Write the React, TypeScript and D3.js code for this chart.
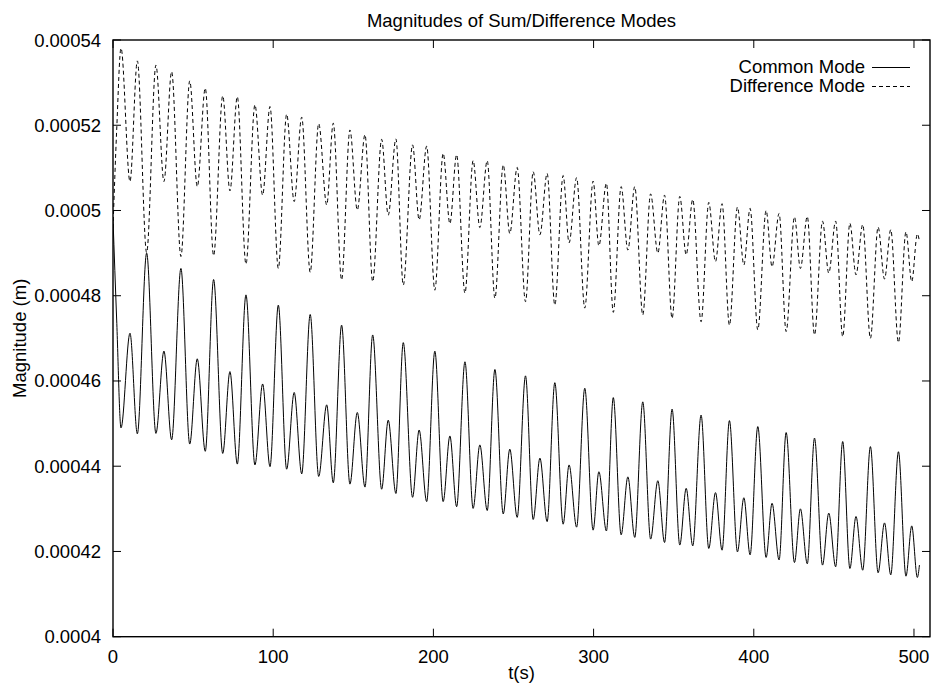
import React from 'react';
import * as d3 from 'd3';

// Extremum times (s) shared by both modes (peaks of one mode coincide with troughs of the other)
const times = [0, 2.3, 5.0,
  10.6, 15.2, 21.0, 26.8,
  31.8, 36.6, 42.4, 47.9,
  52.6, 57.6, 62.8, 68.5,
  73.0, 77.6, 83.0, 88.6,
  93.4, 98.0, 103.2, 108.4,
  113.1, 117.8, 123.1, 128.4,
  133.4, 137.5, 142.7, 147.9,
  152.5, 157.3, 162.1, 167.7,
  171.8, 176.6, 181.2, 187.0,
  191.1, 195.8, 200.9, 206.1,
  210.3, 214.5, 219.7, 224.8,
  229.0, 233.6, 238.4, 243.6,
  247.7, 252.3, 257.5, 262.3,
  266.5, 271.0, 275.8, 281.0,
  284.7, 289.4, 294.5, 299.7,
  303.3, 308.0, 312.3, 317.2,
  321.4, 325.7, 330.7, 335.6,
  340.1, 344.3, 349.0, 353.8,
  357.8, 361.9, 367.1, 371.9,
  376.1, 380.2, 384.8, 389.8,
  393.8, 397.7, 402.5, 407.7,
  411.4, 415.8, 420.2, 425.4,
  429.1, 433.4, 437.9, 442.9,
  446.8, 451.1, 455.5, 460.0,
  463.8, 468.0, 472.8, 477.6,
  481.6, 485.5, 490.3, 495.0,
  498.6, 502.1, 503.4];

// Difference Mode magnitude (m)
const differenceMode = [495.9e-6, 518.9e-6, 538.1e-6,
  506.8e-6, 535.1e-6, 490.1e-6, 534.1e-6,
  506.8e-6, 532.6e-6, 489.2e-6, 530.4e-6,
  505.6e-6, 528.7e-6, 489.4e-6, 526.9e-6,
  504.6e-6, 526.7e-6, 487.4e-6, 524.8e-6,
  503.6e-6, 524.4e-6, 486.4e-6, 522.6e-6,
  502.1e-6, 521.9e-6, 485.5e-6, 520.4e-6,
  501.3e-6, 520.5e-6, 483.7e-6, 518.9e-6,
  500.1e-6, 517.8e-6, 483.3e-6, 516.7e-6,
  498.9e-6, 516.8e-6, 482.5e-6, 515.4e-6,
  497.8e-6, 515.1e-6, 481.3e-6, 513.4e-6,
  496.9e-6, 513.1e-6, 480.6e-6, 511.7e-6,
  496.0e-6, 511.7e-6, 479.4e-6, 510.7e-6,
  494.6e-6, 510.1e-6, 478.6e-6, 509.1e-6,
  494.3e-6, 508.7e-6, 477.8e-6, 508.2e-6,
  492.4e-6, 507.7e-6, 477.1e-6, 506.9e-6,
  491.7e-6, 506.4e-6, 476.1e-6, 505.6e-6,
  490.7e-6, 505.6e-6, 475.5e-6, 503.9e-6,
  490.0e-6, 503.6e-6, 474.7e-6, 503.3e-6,
  489.6e-6, 502.6e-6, 473.9e-6, 501.9e-6,
  488.0e-6, 501.6e-6, 473.1e-6, 500.8e-6,
  487.2e-6, 500.5e-6, 472.0e-6, 500.0e-6,
  486.8e-6, 499.3e-6, 471.6e-6, 498.5e-6,
  486.4e-6, 498.6e-6, 470.8e-6, 497.5e-6,
  485.3e-6, 497.5e-6, 470.4e-6, 497.0e-6,
  484.9e-6, 496.7e-6, 470.0e-6, 496.1e-6,
  483.9e-6, 495.5e-6, 469.0e-6, 495.0e-6,
  483.3e-6, 494.5e-6, 492.8e-6];

// Common Mode magnitude (m)
const commonMode = [498.0e-6, 474.3e-6, 449.0e-6,
  471.2e-6, 447.6e-6, 490.0e-6, 447.7e-6,
  467.0e-6, 446.2e-6, 486.4e-6, 445.2e-6,
  465.2e-6, 443.5e-6, 483.8e-6, 443.0e-6,
  462.2e-6, 440.5e-6, 480.2e-6, 440.3e-6,
  459.3e-6, 439.9e-6, 477.8e-6, 439.3e-6,
  457.3e-6, 438.2e-6, 475.6e-6, 437.6e-6,
  454.4e-6, 436.1e-6, 473.1e-6, 435.8e-6,
  452.6e-6, 435.1e-6, 470.8e-6, 434.6e-6,
  450.8e-6, 433.6e-6, 469.0e-6, 432.7e-6,
  448.5e-6, 431.7e-6, 467.0e-6, 431.7e-6,
  447.1e-6, 430.5e-6, 464.5e-6, 430.1e-6,
  445.0e-6, 429.6e-6, 462.7e-6, 428.8e-6,
  444.0e-6, 428.0e-6, 461.2e-6, 427.5e-6,
  441.9e-6, 427.0e-6, 459.6e-6, 426.4e-6,
  440.3e-6, 425.7e-6, 458.3e-6, 425.0e-6,
  438.7e-6, 424.8e-6, 456.1e-6, 423.9e-6,
  437.5e-6, 423.3e-6, 455.1e-6, 422.9e-6,
  436.6e-6, 422.1e-6, 453.4e-6, 421.5e-6,
  434.8e-6, 421.3e-6, 452.0e-6, 420.7e-6,
  433.8e-6, 420.3e-6, 450.7e-6, 419.9e-6,
  432.6e-6, 419.2e-6, 449.3e-6, 418.6e-6,
  431.3e-6, 418.0e-6, 447.9e-6, 417.4e-6,
  430.0e-6, 417.1e-6, 446.6e-6, 416.8e-6,
  429.0e-6, 416.4e-6, 445.8e-6, 416.0e-6,
  428.2e-6, 415.6e-6, 444.6e-6, 415.0e-6,
  426.7e-6, 414.5e-6, 443.4e-6, 414.2e-6,
  426.0e-6, 413.9e-6, 416.8e-6];

const xTicks = [0, 100, 200, 300, 400, 500];
const yTicks = [0.0004, 0.00042, 0.00044, 0.00046, 0.00048, 0.0005, 0.00052, 0.00054];
const yTickLabels = ['0.0004', '0.00042', '0.00044', '0.00046', '0.00048', '0.0005', '0.00052', '0.00054'];

const W = 933;
const H = 690;
const L = 113;
const R = 930;
const T = 40;
const B = 636.7;

export default function App() {
  const x = d3.scaleLinear().domain([0, 510]).range([L, R]);
  const y = d3.scaleLinear().domain([0.0004, 0.00054]).range([B, T]);
  const mk = (vals: number[]) =>
    d3
      .line<number>()
      .x((_, i) => x(times[i]))
      .y((d) => y(d))
      .curve(d3.curveMonotoneX)(vals) || '';
  const font = "'Liberation Sans', Arial, Helvetica, sans-serif";
  const fs = 18.5;
  const tl = 8;
  return (
    <svg
      width={W}
      height={H}
      viewBox={`0 0 ${W} ${H}`}
      style={{ position: 'absolute', left: 0, top: 0, background: '#fff' }}
      fontFamily={font}
    >
      <rect x={0} y={0} width={W} height={H} fill="#fff" />
      <defs>
        <clipPath id="plot">
          <rect x={L} y={T} width={R - L} height={B - T} />
        </clipPath>
      </defs>
      <g clipPath="url(#plot)">
        <path d={mk(differenceMode)} fill="none" stroke="#000" strokeWidth={1} strokeDasharray="4,3" />
        <path d={mk(commonMode)} fill="none" stroke="#000" strokeWidth={1} />
      </g>
      {yTicks.map((v) => (
        <g key={'y' + v}>
          <line x1={L} x2={L + tl} y1={y(v)} y2={y(v)} stroke="#000" strokeWidth={1} />
          <line x1={R} x2={R - tl} y1={y(v)} y2={y(v)} stroke="#000" strokeWidth={1} />
        </g>
      ))}
      {xTicks.map((v) => (
        <g key={'x' + v}>
          <line x1={x(v)} x2={x(v)} y1={B} y2={B - tl} stroke="#000" strokeWidth={1} />
          <line x1={x(v)} x2={x(v)} y1={T} y2={T + tl} stroke="#000" strokeWidth={1} />
        </g>
      ))}
      <rect x={L} y={T} width={R - L} height={B - T} fill="none" stroke="#000" strokeWidth={1.4} />
      {yTicks.map((v, i) => (
        <text key={'yl' + v} x={L - 12} y={y(v) + 6.5} textAnchor="end" fontSize={fs} fill="#000">
          {yTickLabels[i]}
        </text>
      ))}
      {xTicks.map((v) => (
        <text key={'xl' + v} x={x(v)} y={663} textAnchor="middle" fontSize={fs} fill="#000">
          {String(v)}
        </text>
      ))}
      <text x={(L + R) / 2} y={27} textAnchor="middle" fontSize={fs} fill="#000">
        Magnitudes of Sum/Difference Modes
      </text>
      <text x={(L + R) / 2} y={679} textAnchor="middle" fontSize={fs} fill="#000">
        t(s)
      </text>
      <text
        transform={`translate(26,${(T + B) / 2}) rotate(-90)`}
        textAnchor="middle"
        fontSize={fs}
        fill="#000"
      >
        Magnitude (m)
      </text>
      <text x={865} y={73} textAnchor="end" fontSize={fs} fill="#000">
        Common Mode
      </text>
      <line x1={872} x2={910} y1={67.5} y2={67.5} stroke="#000" strokeWidth={1} />
      <text x={865} y={92} textAnchor="end" fontSize={fs} fill="#000">
        Difference Mode
      </text>
      <line x1={872} x2={910} y1={86.5} y2={86.5} stroke="#000" strokeWidth={1} strokeDasharray="4,3" />
    </svg>
  );
}
